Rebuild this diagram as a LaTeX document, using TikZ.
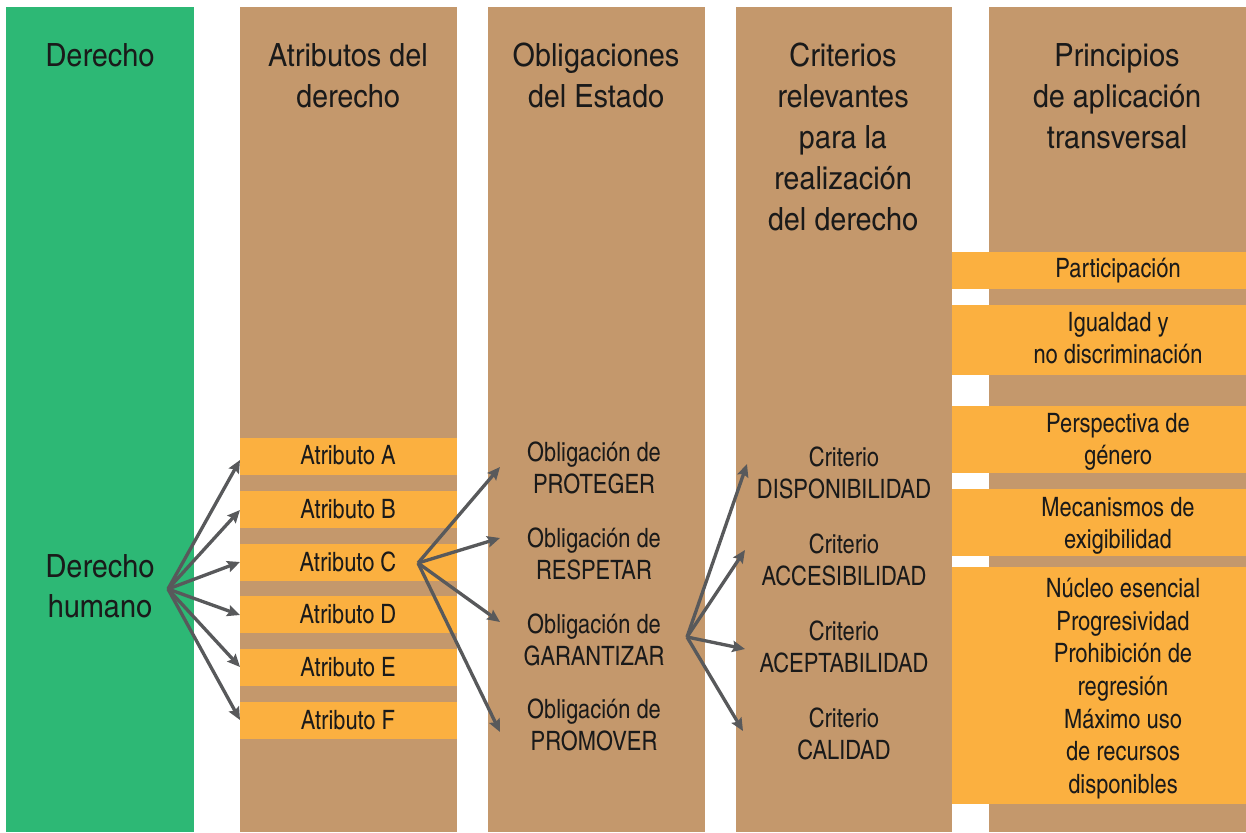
\documentclass[tikz,border=0pt]{standalone}
\usepackage{fontspec}
\setmainfont{texgyreheroscn}[Extension=.otf,UprightFont=*-regular,BoldFont=*-bold,ItalicFont=*-italic,BoldItalicFont=*-bolditalic]
\newfontfamily\hdrfont{texgyreheroscn}[Extension=.otf,UprightFont=*-regular,FakeStretch=1.1]
\usetikzlibrary{arrows.meta}
\definecolor{verde}{HTML}{2DB875}
\definecolor{cafe}{HTML}{C4986C}
\definecolor{naranja}{HTML}{FBB040}
\definecolor{flecha}{HTML}{58595B}
\definecolor{tinta}{HTML}{1A1A1A}
\newcommand\ls{\rule[-0.25em]{0pt}{1.218em}}
\begin{document}
\begin{tikzpicture}[x=0.75pt,y=-0.75pt,
  hdr/.style={font=\hdrfont\fontsize{24}{30.6}\selectfont, align=center, inner sep=0pt, text=tinta},
  bdy/.style={font=\fontsize{20}{24.5}\selectfont, align=center, inner sep=0pt, text=tinta},
  flech/.style={draw=flecha, line width=2.5pt, -{Stealth[length=9.5pt,width=8.5pt,inset=1.5pt]}},
  colverde/.style={fill=verde},
  colcafe/.style={fill=cafe},
  barra/.style={fill=naranja}]
\useasboundingbox (0,0) rectangle (1246,832);
% columns
\fill[colverde] (6,7) rectangle (194,832);
\fill[colcafe] (240,7) rectangle (457,832);
\fill[colcafe] (488,7) rectangle (705,832);
\fill[colcafe] (736,7) rectangle (952,832);
\fill[colcafe] (989,7) rectangle (1246,832);
% attribute bars
\foreach \t in {438,491,544,596,649,702}
  \fill[barra] (240,\t) rectangle (457,\t+37);
% principle bars
\fill[barra] (952,252) rectangle (1246,289);
\fill[barra] (952,305) rectangle (1246,375);
\fill[barra] (952,406) rectangle (1246,473);
\fill[barra] (952,489) rectangle (1246,556);
\fill[barra] (952,567) rectangle (1246,804);
% headers
\node[hdr] (hder) at (100,55) {\ls Derecho};
\node[hdr] (hatr) at (348,75.5) {\ls Atributos del\\\ls derecho};
\node[hdr] (hobl) at (596,75.5) {\ls Obligaciones\\\ls del Estado};
\node[hdr] (hcri) at (843,137) {\ls Criterios\\\ls relevantes\\\ls para la\\\ls realización\\\ls del derecho};
\node[hdr] (hpri) at (1117,96) {\ls Principios\\\ls de aplicación\\\ls transversal};
\node[hdr] (dh) at (100,586) {\ls Derecho\\\ls humano};
% attributes
\node[bdy] (atA) at (348,455) {\ls Atributo A};
\node[bdy] (atB) at (348,508.5) {\ls Atributo B};
\node[bdy] (atC) at (348,561.5) {\ls Atributo C};
\node[bdy] (atD) at (348,613.5) {\ls Atributo D};
\node[bdy] (atE) at (348,666.5) {\ls Atributo E};
\node[bdy] (atF) at (348,719.5) {\ls Atributo F};
% obligations
\node[bdy] (obP) at (594,468) {\ls Obligación de\\\ls PROTEGER};
\node[bdy] (obR) at (594,554) {\ls Obligación de\\\ls RESPETAR};
\node[bdy] (obG) at (594,640) {\ls Obligación de\\\ls GARANTIZAR};
\node[bdy] (obM) at (594,725) {\ls Obligación de\\\ls PROMOVER};
% criteria
\node[bdy] (crD) at (844,473) {\ls Criterio\\\ls DISPONIBILIDAD};
\node[bdy] (crA) at (844,560) {\ls Criterio\\\ls ACCESIBILIDAD};
\node[bdy] (crE) at (844,647) {\ls Criterio\\\ls ACEPTABILIDAD};
\node[bdy] (crC) at (844,734) {\ls Criterio\\\ls CALIDAD};
% principles
\node[bdy] (prP) at (1118,267.5) {\ls Participación};
\node[bdy] (prI) at (1118,338) {\ls Igualdad y\\\ls no discriminación};
\node[bdy] (prG) at (1118,439) {\ls Perspectiva de\\\ls género};
\node[bdy] (prM) at (1118,523) {\ls Mecanismos de\\\ls exigibilidad};
\node[bdy] (prN) at (1123,686) {\ls Núcleo esencial\\\ls Progresividad\\\ls Prohibición de\\\ls regresión\\\ls Máximo uso\\\ls de recursos\\\ls disponibles};
% connector coordinates
\coordinate (o1) at (168,589);
\coordinate (tA) at (240,460);
\coordinate (tB) at (240,510);
\coordinate (tC) at (240,562);
\coordinate (tD) at (240,615);
\coordinate (tE) at (240,667);
\coordinate (tF) at (240,720);
\coordinate (o2) at (418,563);
\coordinate (tP) at (500,467);
\coordinate (tR) at (500,538);
\coordinate (tG) at (500,622);
\coordinate (tM) at (500,732);
\coordinate (o3) at (687,637);
\coordinate (tDi) at (747,464);
\coordinate (tAc) at (745,550);
\coordinate (tAe) at (745,649);
\coordinate (tCa) at (743,731);
% connectors
\foreach \t in {tA,tB,tC,tD,tE,tF} \draw[flech] (o1) -- (\t);
\foreach \t in {tP,tR,tG,tM} \draw[flech] (o2) -- (\t);
\foreach \t in {tDi,tAc,tAe,tCa} \draw[flech] (o3) -- (\t);
\end{tikzpicture}
\end{document}
